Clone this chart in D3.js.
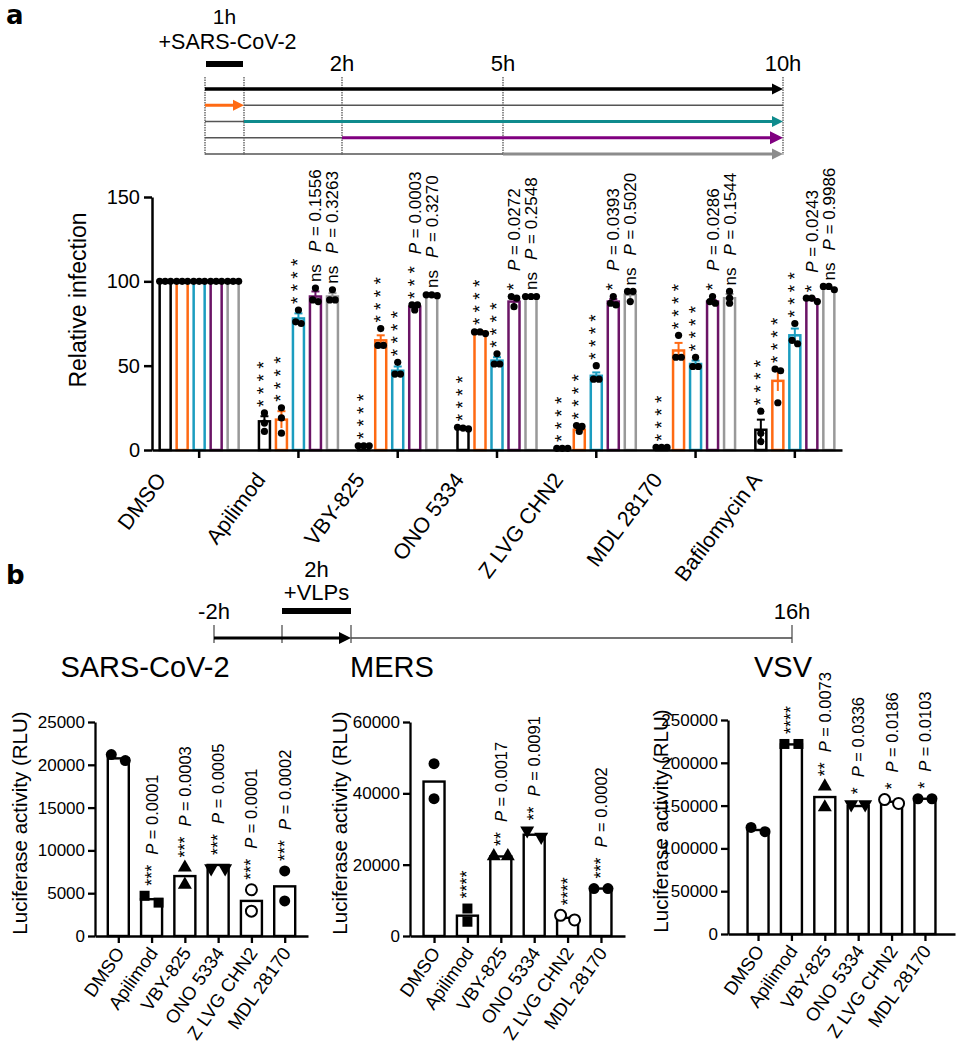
<!DOCTYPE html>
<html>
<head>
<meta charset="utf-8">
<script src="https://cdn.jsdelivr.net/npm/d3@7"></script>
<style>
body { margin: 0; background: #fff; }
text { font-family: "Liberation Sans", Arial, sans-serif; fill: #000; }
</style>
</head>
<body>
<div id="chart-area"></div>
<script>
// ---------- panel a data ----------
var groupsA = ["DMSO", "Apilimod", "VBY-825", "ONO 5334", "Z LVG CHN2", "MDL 28170", "Bafilomycin A"]
var seriesA = ["0-10h", "0-1h", "1-10h", "2-10h", "5-10h"]
var colorsA = ["#000000", "#ff6a13", "#1b9dc0", "#6b1466", "#999999"]
var yTicksA = [0, 50, 100, 150]

// mean relative infection, one row per drug, one column per series
var meansA = [
    [100, 100, 100, 100, 100],
    [17, 18, 78, 91, 91],
    [2.5, 65, 47, 85, 92],
    [13, 70, 53, 88, 91],
    [1, 12, 44, 88, 92],
    [1.5, 59, 51, 88, 90],
    [12, 41, 68, 89, 96]
]
var errA = [
    [0, 0, 0, 0, 0],
    [3, 5, 3, 3, 2],
    [0.3, 3, 2.5, 1, 0.5],
    [0.5, 0.5, 2, 2, 0.3],
    [0.2, 1, 2, 1.5, 2],
    [0.2, 4.5, 2, 1, 2.5],
    [6, 6, 4, 1, 0.7]
]
var pointsA = [
    [[100, 100, 100], [100, 100, 100], [100, 100, 100], [100, 100, 100], [100, 100, 100]],
    [[22, 16, 11], [25, 19, 10], [83, 76, 75], [96, 89, 88], [95, 89, 89]],
    [[2.5, 2.5, 2.5], [72, 62, 62], [52, 45, 45], [86, 83, 86], [92, 91.5, 92]],
    [[13.5, 13, 12.5], [70, 69, 70], [57, 51, 51], [91, 90, 85], [91, 91, 91]],
    [[1, 1, 1], [14.5, 14, 11], [50, 42, 42], [91, 87, 86], [94, 94, 88]],
    [[1.5, 1.5, 1.5], [68, 55, 55], [55, 49.5, 49.5], [91, 88, 87], [94, 90, 87]],
    [[23, 10, 5], [48, 47, 28], [75, 65, 63], [90, 88, 90], [97, 95, 97]]
]
var starsA = [
    ["", "", "", "", ""],
    ["****", "****", "****", "ns", "ns"],
    ["****", "****", "****", "***", "ns"],
    ["****", "****", "****", "*", "ns"],
    ["****", "****", "****", "*", "ns"],
    ["****", "****", "****", "*", "ns"],
    ["****", "****", "****", "*", "ns"]
]
var pValsA = [
    ["", "", "", "", ""],
    ["", "", "", "0.1556", "0.3263"],
    ["", "", "", "0.0003", "0.3270"],
    ["", "", "", "0.0272", "0.2548"],
    ["", "", "", "0.0393", "0.5020"],
    ["", "", "", "0.0286", "0.1544"],
    ["", "", "", "0.0243", "0.9986"]
]

// timeline a (hours)
var timeStopsA = [0, 1, 2, 5, 10]
var timeTickLabelsA = ["", "", "2h", "5h", "10h"]
var drugStartA = [0, 0, 1, 2, 5]
var drugEndA = [10, 1, 10, 10, 10]
var lineColorsA = ["#000000", "#ff6a13", "#0f8b8d", "#800080", "#8c8c8c"]
var infectionA = [0, 1]

// ---------- panel b data ----------
var groupsB = ["DMSO", "Apilimod", "VBY-825", "ONO 5334", "Z LVG CHN2", "MDL 28170"]
var shapesB = ["circle", "square", "triangle", "triangleDown", "openCircle", "circle"]

var sarsMeans = [20750, 4300, 7000, 8300, 4100, 5800]
var sarsPoints = [[20500, 21200], [3900, 4700], [8000, 6000], [7900, 7900], [5400, 2900], [7600, 4100]]
var sarsStars = ["", "***", "***", "***", "***", "***"]
var sarsP = ["", "0.0001", "0.0003", "0.0005", "0.0001", "0.0002"]
var sarsTicks = [0, 5000, 10000, 15000, 20000, 25000]

var mersMeans = [43300, 5700, 22300, 28400, 5100, 13300]
var mersPoints = [[48300, 38500], [7700, 4000], [22400, 22400], [27800, 29600], [4500, 5800], [13300, 13300]]
var mersStars = ["", "****", "**", "**", "****", "***"]
var mersP = ["", "", "0.0017", "0.0091", "", "0.0002"]
var mersTicks = [0, 20000, 40000, 60000]

var vsvMeans = [121500, 221500, 160000, 149500, 154500, 158000]
var vsvPoints = [[119500, 124500], [222000, 222000], [172500, 148000], [151500, 151500], [152500, 157000], [158000, 158000]]
var vsvStars = ["", "****", "**", "*", "*", "*"]
var vsvP = ["", "", "0.0073", "0.0336", "0.0186", "0.0103"]
var vsvTicks = [0, 50000, 100000, 150000, 200000, 250000]

// timeline b (hours)
var timeStopsB = [-2, 0, 2, 16]
var timeTickLabelsB = ["-2h", "", "", "16h"]
var vlpWindowB = [0, 2]

var svg = d3.select("#chart-area")
    .append("svg")
    .attr("width", 958)
    .attr("height", 1050)

function arrow(g, x1, x2, y, color, w, head) {
    g.append("line")
        .attr("x1", x1).attr("x2", x2 - head * 0.6)
        .attr("y1", y).attr("y2", y)
        .attr("stroke", color).attr("stroke-width", w)
    g.append("path")
        .attr("d", "M" + x2 + "," + y + "L" + (x2 - head) + "," + (y - head / 2) + "L" + (x2 - head) + "," + (y + head / 2) + "Z")
        .attr("fill", color)
}

// spread replicate points that sit on top of each other
function spread(vals, scale, thresh, step) {
    var idx = vals.map((v, i) => i).sort((a, b) => vals[b] - vals[a])
    var offs = vals.map(() => 0)
    var clusters = []
    idx.forEach(i => {
        var c = clusters.find(c => Math.abs(scale(vals[c[c.length - 1]]) - scale(vals[i])) < thresh)
        if (c) c.push(i); else clusters.push([i])
    })
    clusters.forEach(c => c.forEach((i, k) => { offs[i] = (k - (c.length - 1) / 2) * step }))
    return offs
}

// ---------- panel letters ----------
svg.append("text").attr("x", 6).attr("y", 24)
    .style("font-family", "'DejaVu Sans', sans-serif")
    .attr("font-weight", "bold").attr("font-size", "26px").text("a")
svg.append("text").attr("x", 6).attr("y", 584)
    .style("font-family", "'DejaVu Sans', sans-serif")
    .attr("font-weight", "bold").attr("font-size", "26px").text("b")

// ---------- timeline a ----------
var tA = d3.scaleLinear().domain(timeStopsA).range([205, 244, 342, 503, 783])
var rowA = d3.scalePoint().domain(d3.range(seriesA.length)).range([89, 154])
var tl = svg.append("g")

tl.selectAll(".vline").data(timeStopsA).enter().append("line")
    .attr("x1", d => tA(d)).attr("x2", d => tA(d))
    .attr("y1", 77).attr("y2", 155)
    .attr("stroke", "#555").attr("stroke-width", 1.3)
    .attr("stroke-dasharray", "1.5,1")

tl.selectAll(".tlab").data(timeStopsA).enter().append("text")
    .attr("x", d => tA(d)).attr("y", 71)
    .attr("text-anchor", "middle").attr("font-size", "22px")
    .text((d, i) => timeTickLabelsA[i])

tl.append("rect")
    .attr("x", tA(infectionA[0]) + 1).attr("width", tA(infectionA[1]) - tA(infectionA[0]) - 2)
    .attr("y", 61).attr("height", 6).attr("fill", "#000")
tl.append("text").attr("x", (tA(infectionA[0]) + tA(infectionA[1])) / 2).attr("y", 24)
    .attr("text-anchor", "middle").attr("font-size", "21px").text("1h")
tl.append("text").attr("x", (tA(infectionA[0]) + tA(infectionA[1])) / 2 + 3).attr("y", 49)
    .attr("text-anchor", "middle").attr("font-size", "21.5px").text("+SARS-CoV-2")

seriesA.forEach((s, i) => {
    var y = rowA(i)
    if (drugStartA[i] > 0) {
        tl.append("line").attr("x1", tA(0)).attr("x2", tA(drugStartA[i]))
            .attr("y1", y).attr("y2", y).attr("stroke", "#555").attr("stroke-width", 1.3)
    }
    if (drugEndA[i] < 10) {
        tl.append("line").attr("x1", tA(drugEndA[i])).attr("x2", tA(10))
            .attr("y1", y).attr("y2", y).attr("stroke", "#555").attr("stroke-width", 1.3)
    }
    arrow(tl, tA(drugStartA[i]), tA(drugEndA[i]), y, lineColorsA[i], i == 0 ? 3.5 : 3, i == 3 ? 13 : 11)
})

// ---------- panel a bar chart ----------
var xA = d3.scaleBand().domain(groupsA).range([152, 842]).paddingInner(0.2).paddingOuter(0.075)
var sA = d3.scalePoint().domain(seriesA).range([-34, 34])
var yA = d3.scaleLinear().domain([0, 150]).range([450, 197])
var cA = d => xA(d) + xA.bandwidth() / 2
var gA = svg.append("g")

groupsA.forEach((grp, gi) => {
    seriesA.forEach((s, si) => {
        var cx = cA(grp) + sA(s)
        var col = colorsA[si]
        var m = meansA[gi][si], e = errA[gi][si]
        gA.append("rect")
            .attr("x", cx - 5.5).attr("width", 11)
            .attr("y", yA(m)).attr("height", yA(0) - yA(m))
            .attr("fill", "#fff").attr("stroke", col).attr("stroke-width", 2.5)
        if (e > 0.4) {
            gA.append("line").attr("x1", cx).attr("x2", cx)
                .attr("y1", yA(m - e)).attr("y2", yA(m + e))
                .attr("stroke", col).attr("stroke-width", 2)
            gA.append("line").attr("x1", cx - 4).attr("x2", cx + 4)
                .attr("y1", yA(m + e)).attr("y2", yA(m + e))
                .attr("stroke", col).attr("stroke-width", 2)
        }
        var pts = pointsA[gi][si]
        var offs = spread(pts, yA, 5, 5.5)
        pts.forEach((p, k) => {
            gA.append("circle").attr("cx", cx + offs[k]).attr("cy", yA(p))
                .attr("r", 3.6).attr("fill", "#000")
        })
        var st = starsA[gi][si]
        if (st) {
            var top = d3.max([m + e, d3.max(pts)])
            var t = gA.append("text")
                .attr("transform", "translate(" + (cx + 6) + "," + (yA(top) - 6) + ") rotate(-90)")
                .attr("font-size", "17px")
            t.append("tspan").attr("font-size", st == "ns" ? "17px" : "19px")
                .text(st == "ns" ? st : st.split("").join(" "))
            if (pValsA[gi][si]) {
                t.append("tspan").attr("dx", 12).attr("font-style", "italic").text("P")
                t.append("tspan").text(" = " + pValsA[gi][si])
            }
        }
    })
})

var yAxisA = gA.append("g")
    .attr("transform", "translate(152,0)")
    .call(d3.axisLeft(yA).tickValues(yTicksA).tickSize(8).tickSizeOuter(0).tickPadding(4))
var xAxisA = gA.append("g")
    .attr("transform", "translate(0,450)")
    .call(d3.axisBottom(xA).tickSize(8).tickSizeOuter(0).tickFormat(""))
;[yAxisA, xAxisA].forEach(ax => {
    ax.selectAll("path, line").attr("stroke", "#000").attr("stroke-width", 2.5)
    ax.selectAll("text").attr("font-size", "20px").attr("fill", "#000")
        .style("font-family", "'Liberation Sans', Arial, sans-serif")
})
gA.selectAll(".xlabA").data(groupsA).enter().append("text")
    .attr("transform", d => "translate(" + (cA(d) - 32) + ",480) rotate(-53)")
    .attr("text-anchor", "end").attr("font-size", "21.5px")
    .text(d => d)
gA.append("text")
    .attr("transform", "translate(86,300) rotate(-90)")
    .attr("text-anchor", "middle").attr("font-size", "23px")
    .text("Relative infection")

// ---------- timeline b ----------
var tB = d3.scaleLinear().domain(timeStopsB).range([214, 282, 351, 792])
var tlb = svg.append("g")
tlb.selectAll(".tk").data(timeStopsB).enter().append("line")
    .attr("x1", d => tB(d)).attr("x2", d => tB(d))
    .attr("y1", 625).attr("y2", 643)
    .attr("stroke", "#444").attr("stroke-width", 1.2)
tlb.selectAll(".tl").data(timeStopsB).enter().append("text")
    .attr("x", d => tB(d)).attr("y", 619)
    .attr("text-anchor", "middle").attr("font-size", "22px")
    .text((d, i) => timeTickLabelsB[i])
tlb.append("line").attr("x1", tB(vlpWindowB[1])).attr("x2", tB(16))
    .attr("y1", 638).attr("y2", 638).attr("stroke", "#444").attr("stroke-width", 1.3)
arrow(tlb, tB(-2), tB(vlpWindowB[1]), 638, "#000", 2.8, 12)
tlb.append("rect")
    .attr("x", tB(vlpWindowB[0])).attr("width", tB(vlpWindowB[1]) - tB(vlpWindowB[0]))
    .attr("y", 608).attr("height", 6).attr("fill", "#000")
tlb.append("text").attr("x", (tB(vlpWindowB[0]) + tB(vlpWindowB[1])) / 2).attr("y", 577)
    .attr("text-anchor", "middle").attr("font-size", "22px").text("2h")
tlb.append("text").attr("x", (tB(vlpWindowB[0]) + tB(vlpWindowB[1])) / 2).attr("y", 600)
    .attr("text-anchor", "middle").attr("font-size", "22px").text("+VLPs")

// ---------- panel b bar charts ----------
function symbolPath(shape) {
    var type = { circle: d3.symbolCircle, openCircle: d3.symbolCircle, square: d3.symbolSquare,
                 triangle: d3.symbolTriangle, triangleDown: d3.symbolTriangle }[shape]
    var size = shape == "square" ? 100 : (shape.indexOf("triangle") == 0 ? 85 : 95)
    return d3.symbol().type(type).size(size)()
}

function panelB(title, titleX, x0, x1, pad, yMax, yTop, yBottom, ticks, labelX, means, points, stars, pvals) {
    var g = svg.append("g")
    var x = d3.scalePoint().domain(groupsB).range([x0, x1]).padding(pad)
    var y = d3.scaleLinear().domain([0, yMax]).range([yBottom, yTop])

    g.selectAll(".bar").data(groupsB).enter().append("rect")
        .attr("x", d => x(d) - 10.5).attr("width", 21)
        .attr("y", (d, i) => y(means[i]))
        .attr("height", (d, i) => y(0) - y(means[i]))
        .attr("fill", "#fff").attr("stroke", "#000").attr("stroke-width", 2.4)

    groupsB.forEach((grp, i) => {
        var cx = x(grp)
        var offs = spread(points[i], y, 10, 14)
        var shp = shapesB[i]
        points[i].forEach((p, k) => {
            g.append("path")
                .attr("d", symbolPath(shp))
                .attr("transform", "translate(" + (cx + offs[k]) + "," + y(p) + ")" + (shp == "triangleDown" ? " rotate(180)" : ""))
                .attr("fill", shp == "openCircle" ? "#fff" : "#000")
                .attr("stroke", "#000").attr("stroke-width", shp == "openCircle" ? 2 : 0)
        })
        if (stars[i]) {
            var top = d3.max([means[i], d3.max(points[i])])
            var t = g.append("text")
                .attr("transform", "translate(" + (cx + 6) + "," + (y(top) - 10) + ") rotate(-90)")
                .attr("font-size", "16.5px")
            t.append("tspan").attr("font-size", "18px").text(stars[i])
            if (pvals[i]) {
                t.append("tspan").attr("dx", 10).attr("font-style", "italic").text("P")
                t.append("tspan").text(" = " + pvals[i])
            }
        }
    })

    var ya = g.append("g").attr("transform", "translate(" + x0 + ",0)")
        .call(d3.axisLeft(y).tickValues(ticks).tickFormat(d3.format("d")).tickSize(7).tickSizeOuter(0).tickPadding(3))
    var xa = g.append("g").attr("transform", "translate(0," + yBottom + ")")
        .call(d3.axisBottom(x).tickSize(7).tickSizeOuter(0).tickFormat(""))
    ;[ya, xa].forEach(ax => {
        ax.selectAll("path, line").attr("stroke", "#000").attr("stroke-width", 2.3)
        ax.selectAll("text").attr("font-size", "17px").attr("fill", "#000")
            .style("font-family", "'Liberation Sans', Arial, sans-serif")
    })
    g.selectAll(".xl").data(groupsB).enter().append("text")
        .attr("transform", d => "translate(" + (x(d) + 7) + "," + (yBottom + 17) + ") rotate(-55)")
        .attr("text-anchor", "end").attr("font-size", "18.5px")
        .text(d => d)
    g.append("text")
        .attr("transform", "translate(" + labelX + "," + ((yTop + yBottom) / 2 - 6) + ") rotate(-90)")
        .attr("text-anchor", "middle").attr("font-size", "20.5px")
        .text("Luciferase activity (RLU)")
    g.append("text").attr("x", titleX).attr("y", 677)
        .attr("text-anchor", "middle").attr("font-size", "29px").text(title)
}

panelB("SARS-CoV-2", 145, 95, 308, 0.7, 25000, 722, 936, sarsTicks, 27, sarsMeans, sarsPoints, sarsStars, sarsP)
panelB("MERS", 392, 410, 625, 0.72, 60000, 722, 936, mersTicks, 347, mersMeans, mersPoints, mersStars, mersP)
panelB("VSV", 783, 728, 955, 0.9, 250000, 720, 934, vsvTicks, 668, vsvMeans, vsvPoints, vsvStars, vsvP)
</script>
</body>
</html>
